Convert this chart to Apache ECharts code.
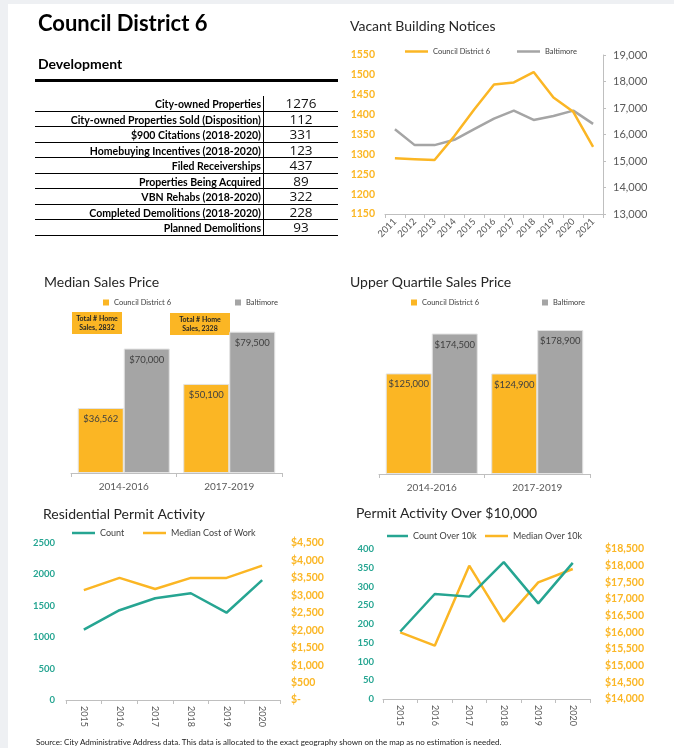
<!DOCTYPE html>
<html>
<head>
<meta charset="utf-8">
<title>Council District 6</title>
<script src="https://cdn.jsdelivr.net/npm/echarts@6/dist/echarts.min.js"></script>
<style>
  body { margin: 0; background: #eef0f3; font-family: Lato, 'Open Sans', sans-serif; }
  #sheet { position: absolute; left: 8px; top: 4px; width: 666px; height: 744px; background: #fff; }
  #chart { position: absolute; left: 0; top: 0; width: 674px; height: 748px; }
  .h1 { position: absolute; left: 38px; top: 9px; font: bold 22px Lato; color: #000; }
  .h2 { position: absolute; left: 38px; top: 55px; font: bold 14px Lato; color: #000; }
  .rule { position: absolute; left: 35px; top: 79px; width: 303px; height: 2.5px; background: #000; }
  .row { position: absolute; left: 35px; width: 303px; border-bottom: 1.5px solid #000; box-sizing: border-box; }
  .row .lbl { position: absolute; left: 0; top: 0; width: 229px; height: 100%; text-align: right; font: bold 10.5px Lato;
              line-height: 16px; color: #000; border-right: 1.5px solid #000; box-sizing: border-box; padding-right: 2px; }
  .row .val { position: absolute; left: 229px; top: 0; width: 74px; text-align: center; font: 13.5px 'Open Sans';
              line-height: 15px; color: #111; }
  .source { position: absolute; left: 36px; top: 737px; font: 8px Lato; color: #222; }
</style>
</head>
<body>
<div id="sheet"></div>
<div id="chart"></div>
<div class="h1">Council District 6</div>
<div class="h2">Development</div>
<div class="rule"></div>
<div id="table"></div>
<div class="source">Source: City Administrative Address data. This data is allocated to the exact geography shown on the map as no estimation is needed.</div>

<script>
// development table
const tableLabels = [
  'City-owned Properties',
  'City-owned Properties Sold (Disposition)',
  '$900 Citations (2018-2020)',
  'Homebuying Incentives (2018-2020)',
  'Filed Receiverships',
  'Properties Being Acquired',
  'VBN Rehabs (2018-2020)',
  'Completed Demolitions (2018-2020)',
  'Planned Demolitions'
]
const tableValues = [1276, 112, 331, 123, 437, 89, 322, 228, 93]

// vacant building notices
const vacantYears = ['2011', '2012', '2013', '2014', '2015', '2016', '2017', '2018', '2019', '2020', '2021']
const vacantDistrict = [1290, 1288, 1286, 1346, 1413, 1476, 1481, 1507, 1443, 1407, 1319]
const vacantCity = [16200, 15600, 15600, 15800, 16200, 16600, 16900, 16550, 16700, 16900, 16400]

// sales prices
const salesPeriods = ['2014-2016', '2017-2019']
const medianDistrict = [36562, 50100]
const medianCity = [70000, 79500]
const upperDistrict = [125000, 124900]
const upperCity = [174500, 178900]
const homeSalesNotes = ['Total # Home\nSales, 2832', 'Total # Home\nSales, 2328']

// permits
const permitYears = ['2015', '2016', '2017', '2018', '2019', '2020']
const permitCount = [1120, 1430, 1620, 1700, 1390, 1910]
const permitMedianCost = [3150, 3500, 3180, 3500, 3500, 3850]
const over10kCount = [180, 280, 273, 365, 255, 363]
const over10kMedian = [16000, 15600, 18000, 16320, 17500, 17900]

// build the table rows
const tableEl = document.getElementById('table')
tableLabels.forEach((label, i) => {
  const row = document.createElement('div')
  row.className = 'row'
  row.style.top = (96 + i * 15.55) + 'px'
  row.style.height = '15.55px'
  row.innerHTML = '<div class="lbl">' + label + '</div><div class="val">' + tableValues[i] + '</div>'
  tableEl.appendChild(row)
})

const ORANGE = '#FBB624'
const GRAY = '#A5A5A5'
const TEAL = '#26A592'
const FONT = 'Lato'

const money = v => '$' + v.toLocaleString('en-US')
const plain = v => String(v)

const titleStyle = { fontSize: 14, fontWeight: 'normal', color: '#262626', fontFamily: FONT }
const makeTitle = (text, left, top) => ({ text, left, top, padding: 0, textStyle: titleStyle })

const makeLegend = (name, left, top, fontSize, icon, w, h) => ({
  left, top, padding: 0, icon, itemWidth: w, itemHeight: h,
  data: [name],
  textStyle: { fontSize, color: '#404040', fontFamily: FONT }
})

const catAxis = (gridIndex, data, label) => ({
  type: 'category', gridIndex, data,
  axisLine: { lineStyle: { color: '#BFBFBF' } },
  axisTick: { show: true, length: 4, lineStyle: { color: '#BFBFBF' } },
  axisLabel: Object.assign({ interval: 0, color: '#595959', fontFamily: FONT }, label)
})

const valAxis = (gridIndex, position, min, max, interval, label, extra) => Object.assign({
  type: 'value', gridIndex, position, min, max, interval,
  splitLine: { show: false },
  axisLine: { show: false },
  axisTick: { show: false },
  axisLabel: Object.assign({ fontFamily: FONT }, label)
}, extra || {})

const lineSeries = (name, x, y, data, color) => ({
  name, type: 'line', xAxisIndex: x, yAxisIndex: y, data,
  symbol: 'none', lineStyle: { width: 2.5, color }, itemStyle: { color }
})

const barSeries = (name, x, y, data, color) => ({
  name, type: 'bar', xAxisIndex: x, yAxisIndex: y, data,
  barWidth: 46, barGap: '0%',
  itemStyle: { color, borderColor: '#E3E3E3', borderWidth: 1 },
  label: {
    show: true, position: 'insideTop', distance: 6,
    formatter: p => money(p.value),
    color: '#404040', fontSize: 9.5, fontFamily: FONT
  }
})

const noteBox = (text, x, y, w) => ({
  type: 'group', left: x, top: y,
  children: [
    { type: 'rect', shape: { width: w, height: 22 }, style: { fill: ORANGE } },
    { type: 'text', x: w / 2, y: 11,
      style: { text, fill: '#262626', font: 'bold 7px ' + FONT, align: 'center', verticalAlign: 'middle', lineHeight: 9 } }
  ]
})

const chart = echarts.init(document.getElementById('chart'))
chart.setOption({
  animation: false,
  backgroundColor: 'transparent',
  title: [
    makeTitle('Vacant Building Notices', 350, 19),
    makeTitle('Median Sales Price', 44, 275),
    makeTitle('Upper Quartile Sales Price', 350, 275),
    makeTitle('Residential Permit Activity', 43, 507),
    makeTitle('Permit Activity Over $10,000', 356, 506)
  ],
  legend: [
    makeLegend('Council District 6', 405, 47.5, 7.5, 'rect', 23, 2.5),
    makeLegend('Baltimore', 517, 47.5, 7.5, 'rect', 23, 2.5),
    makeLegend('Council District 6', 103, 298.5, 7.5, 'rect', 6, 6),
    makeLegend('Baltimore', 235, 298.5, 7.5, 'rect', 6, 6),
    makeLegend('Council District 6', 411, 298.5, 7.5, 'rect', 6, 6),
    makeLegend('Baltimore', 542, 298.5, 7.5, 'rect', 6, 6),
    makeLegend('Count', 72, 528.5, 9, 'rect', 23, 2.5),
    makeLegend('Median Cost of Work', 143, 528.5, 9, 'rect', 23, 2.5),
    makeLegend('Count Over 10k', 387, 531.5, 9, 'rect', 21, 2.5),
    makeLegend('Median Over 10k', 485, 531.5, 9, 'rect', 23, 2.5)
  ],
  grid: [
    { left: 385, top: 55, width: 218, height: 159 },
    { left: 71, top: 313, width: 211, height: 160 },
    { left: 379, top: 313, width: 211, height: 161 },
    { left: 66, top: 543, width: 214, height: 157 },
    { left: 383, top: 549, width: 207, height: 150 }
  ],
  xAxis: [
    catAxis(0, vacantYears, { rotate: 45, fontSize: 9.5, margin: 6 }),
    catAxis(1, salesPeriods, { fontSize: 10, margin: 9 }),
    catAxis(2, salesPeriods, { fontSize: 10, margin: 9 }),
    catAxis(3, permitYears, { rotate: -90, fontSize: 9, margin: 6 }),
    catAxis(4, permitYears, { rotate: -90, fontSize: 9, margin: 6 })
  ],
  yAxis: [
    valAxis(0, 'left', 1150, 1550, 50, { color: ORANGE, fontWeight: 'bold', fontSize: 10.5, margin: 10, formatter: plain }),
    valAxis(0, 'right', 13000, 19000, 1000,
      { color: '#595959', fontSize: 11, margin: 10, formatter: v => v.toLocaleString('en-US') },
      { axisLine: { show: true, lineStyle: { color: '#BFBFBF' } }, axisTick: { show: true, length: 3, lineStyle: { color: '#BFBFBF' } } }),
    valAxis(1, 'left', 0, 90000, 10000, {}, { show: false }),
    valAxis(2, 'left', 0, 200000, 20000, {}, { show: false }),
    valAxis(3, 'left', 0, 2500, 500, { color: TEAL, fontWeight: 'bold', fontSize: 9.5, margin: 11, formatter: plain }),
    valAxis(3, 'right', 0, 4500, 500,
      { color: ORANGE, fontWeight: 'bold', fontSize: 10.5, margin: 11, formatter: v => v === 0 ? '$-' : money(v) }),
    valAxis(4, 'left', 0, 400, 50, { color: TEAL, fontWeight: 'bold', fontSize: 9.5, margin: 9, formatter: plain }),
    valAxis(4, 'right', 14000, 18500, 500,
      { color: ORANGE, fontWeight: 'bold', fontSize: 10.5, margin: 15, formatter: v => money(v) })
  ],
  series: [
    lineSeries('Baltimore', 0, 1, vacantCity, GRAY),
    lineSeries('Council District 6', 0, 0, vacantDistrict, ORANGE),
    barSeries('Council District 6', 1, 2, medianDistrict, ORANGE),
    barSeries('Baltimore', 1, 2, medianCity, GRAY),
    barSeries('Council District 6', 2, 3, upperDistrict, ORANGE),
    barSeries('Baltimore', 2, 3, upperCity, GRAY),
    lineSeries('Median Cost of Work', 3, 5, permitMedianCost, ORANGE),
    lineSeries('Count', 3, 4, permitCount, TEAL),
    lineSeries('Median Over 10k', 4, 7, over10kMedian, ORANGE),
    lineSeries('Count Over 10k', 4, 6, over10kCount, TEAL)
  ],
  graphic: [
    noteBox(homeSalesNotes[0], 72, 312, 50),
    noteBox(homeSalesNotes[1], 170, 313, 60)
  ]
})
</script>
</body>
</html>
